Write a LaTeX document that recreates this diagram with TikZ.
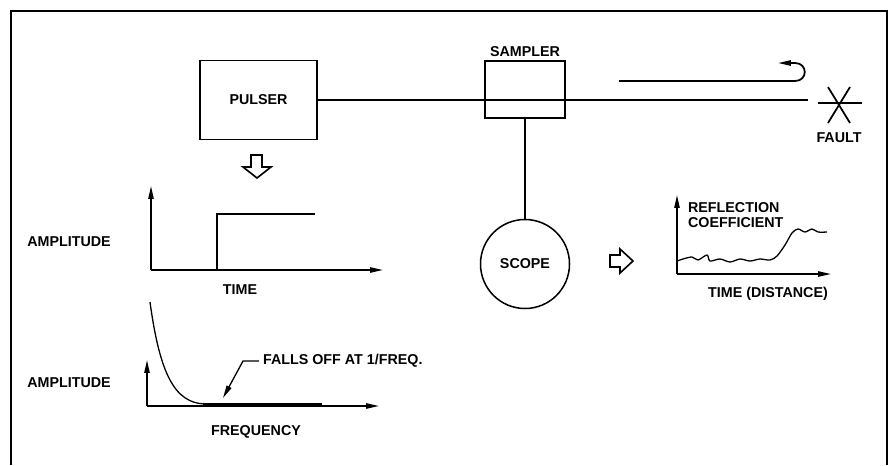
\documentclass[tikz,border=0pt]{standalone}
\usepackage{fontspec}
\setsansfont{Liberation Sans}
\usetikzlibrary{arrows.meta,positioning,calc}

\begin{document}
\begin{tikzpicture}[
  x=0.03cm, y=-0.03cm,
  >={Triangle[length=11pt,width=4.5pt]},
  font=\sffamily\bfseries\fontsize{12.2}{12.8}\selectfont,
  block/.style={
    draw,
    line width=1.3pt,
    inner sep=0pt
  },
  wire/.style={line width=1.5pt},
  axis/.style={->, line width=1.3pt},
  trace/.style={line width=1.1pt},
  hollow/.style={draw, line width=1.4pt, fill=white, line join=miter},
  frame/.style={line width=1.2pt},
  lbl/.style={inner sep=1pt}
]
\useasboundingbox (0,0) rectangle (889,465);

% ========== Frame ==========
\draw[frame] (11,465) -- (11,11) -- (887,11) -- (887,465);

% ========== Test set-up ==========
\node[block, minimum width=3.51cm, minimum height=2.37cm] (pulser) at (258.5,100) {PULSER};
\node[block, minimum width=2.4cm, minimum height=1.71cm] (sampler) at (525,89.5) {};
\node[lbl, above=2pt of sampler] (sampler-lbl) {SAMPLER};
\node[block, circle, minimum size=2.67cm] (scope) at (525,264) {SCOPE};
\coordinate (line-end) at (808,100);
\coordinate (fault) at (839,103);

\draw[wire] (pulser.east) -- (line-end);
\draw[wire] (sampler.south) -- (scope.north);

% Fault mark
\draw[wire] ($(fault)+(-21,0)$) -- ($(fault)+(23,0)$);
\draw[wire] ($(fault)+(-11,-16)$) -- ($(fault)+(11,20)$);
\draw[wire] ($(fault)+(11,-16)$) -- ($(fault)+(-11,20)$);
\node[lbl, below=24pt of fault] (fault-lbl) {FAULT};

% Reflected wave
\coordinate (echo-start) at (619,81);
\draw[->, wire] (echo-start) -- (795,81) .. controls (808,81) and (808,63) .. (795,63) -- (778,63);

% ========== Pulse in time ==========
\draw[hollow] (251,155) -- (262,155) -- (262,167) -- (271,167) -- (257,178) -- (243,167) -- (251,167) -- cycle;

\coordinate (t-orig) at (151,270);
\coordinate (t-xend) at (383,270);
\coordinate (t-yend) at (151,186);
\draw[axis] (t-orig) -- (t-xend);
\draw[axis] (t-orig) -- (t-yend);
\draw[wire] (217,270) -- (217,214) -- (315,214);

\node (amp-time) at (69,242) {AMPLITUDE};
\node (time-lbl) at (240,290) {TIME};

% ========== Spectrum ==========
\coordinate (f-orig) at (147,406);
\coordinate (f-xend) at (379,406);
\coordinate (f-yend) at (147,360);
\draw[axis] (f-orig) -- (f-xend);
\draw[axis] (f-orig) -- (f-yend);
\draw[trace] (150,302) .. controls (160,375) and (175,403) .. (205,404);
\draw[line width=2.6pt] (203,404.5) -- (322,404.5);

\node (amp-freq) at (69,383) {AMPLITUDE};
\node (freq-lbl) at (256,432) {FREQUENCY};
\node[anchor=west] (falls-lbl) at (259,361) {FALLS OFF AT 1/FREQ.};
\draw[->, trace] (falls-lbl.west) -- ++(-16,0) -- (223,398);

% ========== Scope display ==========
\draw[hollow] (610,255) -- (620,255) -- (620,249) -- (633,261) -- (620,273) -- (620,267) -- (610,267) -- cycle;

\coordinate (r-orig) at (677,274);
\coordinate (r-xend) at (831,274);
\coordinate (r-yend) at (677,195);
\draw[axis] (r-orig) -- (r-xend);
\draw[axis] (r-orig) -- (r-yend);
\draw[trace] plot[smooth] coordinates {
  (677,261) (683,259) (692,257) (698,260) (707,255) (710,261) (720,259)
  (730,262) (740,259) (750,261) (760,259) (770,260) (777,256) (785,245)
  (792,233) (798,229) (805,232) (812,229) (818,232) (827,232)};

\node[anchor=west, align=left] (refl-lbl) at (684,215) {REFLECTION\\COEFFICIENT};
\node (dist-lbl) at (768,294) {TIME (DISTANCE)};

\end{tikzpicture}
\end{document}
